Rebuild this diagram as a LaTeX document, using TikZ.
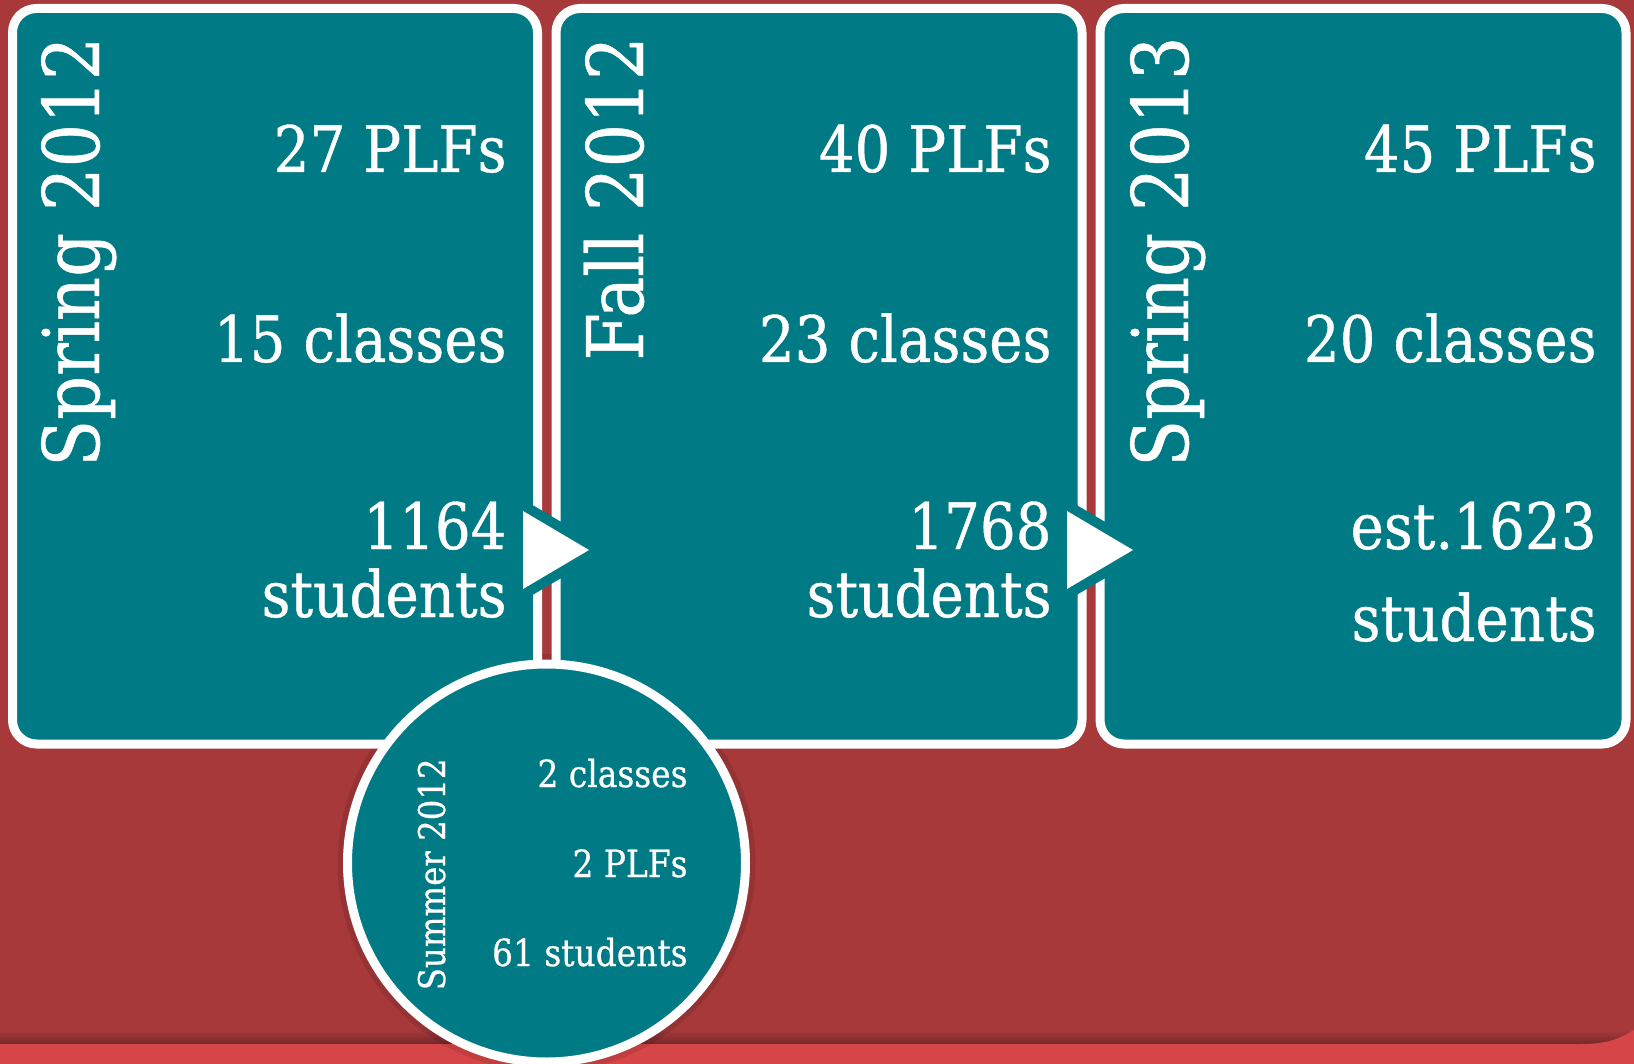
\documentclass[tikz,border=0pt]{standalone}
\usepackage{fontspec}
\setmainfont{DejaVu Serif}[FakeStretch=0.88,FakeBold=0.6]
\definecolor{bgred}{RGB}{167,57,59}
\definecolor{bandred}{RGB}{214,70,72}
\definecolor{tealbox}{RGB}{0,122,132}
\begin{document}
\begin{tikzpicture}[x=0.5pt,y=-0.5pt,
    box/.style={draw=white,fill=tealbox,line width=4.5pt,rounded corners=12pt},
    tri/.style={fill=white,preaction={draw=tealbox,line width=10pt,line join=round}},
    stat/.style={text=white,inner sep=0pt,anchor=base east,font=\fontsize{32}{36}\selectfont},
    season/.style={text=white,inner sep=0pt,anchor=base east,rotate=90,font=\fontsize{39}{46}\selectfont},
    smallstat/.style={stat,font=\fontsize{18.7}{22}\selectfont},
    smallseason/.style={season,font=\fontsize{18.4}{22}\selectfont}]
    \useasboundingbox (0,0) rectangle (1634,1064);
    \fill[bgred] (0,0) rectangle (1634,1064);
    \shade[top color=bgred,bottom color=bgred!70!black] (0,1030) rectangle (1634,1044);
    \fill[bandred] (0,1044) -- (1580,1044) .. controls (1610,1044) and (1620,1038) .. (1634,1030) -- (1634,1064) -- (0,1064) -- cycle;
    \fill[black,opacity=0.1] (546.5,863) circle (209);

    \draw[box] (12.5,8.5) rectangle (537.5,744);
    \draw[box] (556,8.5) rectangle (1082,744);
    \draw[box] (1100,8.5) rectangle (1626,744);

    \path[tri] (523,511) -- (589,550) -- (523,589) -- cycle;
    \path[tri] (1067,511) -- (1133,550) -- (1067,589) -- cycle;

    \node[season] (springA) at (99,36) {Spring 2012};
    \node[stat] (plfA) at (507,172) {27 PLFs};
    \node[stat] (clsA) at (507,362) {15 classes};
    \node[stat] (numA) at (507,549) {1164};
    \node[stat] (stuA) at (507,617) {students};

    \node[season] (fall) at (643,36) {Fall 2012};
    \node[stat] (plfB) at (1052,172) {40 PLFs};
    \node[stat] (clsB) at (1052,362) {23 classes};
    \node[stat] (numB) at (1052,549) {1768};
    \node[stat] (stuB) at (1052,617) {students};

    \node[season] (springB) at (1188,36) {Spring 2013};
    \node[stat] (plfC) at (1597,172) {45 PLFs};
    \node[stat] (clsC) at (1597,362) {20 classes};
    \node[stat] (numC) at (1597,549) {est.1623};
    \node[stat] (stuC) at (1597,641) {students};

    \draw[box] (546.5,863) circle (199);
    \node[smallseason] (summer) at (445,758) {Summer 2012};
    \node[smallstat] (clsS) at (688,787) {2 classes};
    \node[smallstat] (plfS) at (688,877) {2 PLFs};
    \node[smallstat] (stuS) at (688,966) {61 students};
\end{tikzpicture}
\end{document}
